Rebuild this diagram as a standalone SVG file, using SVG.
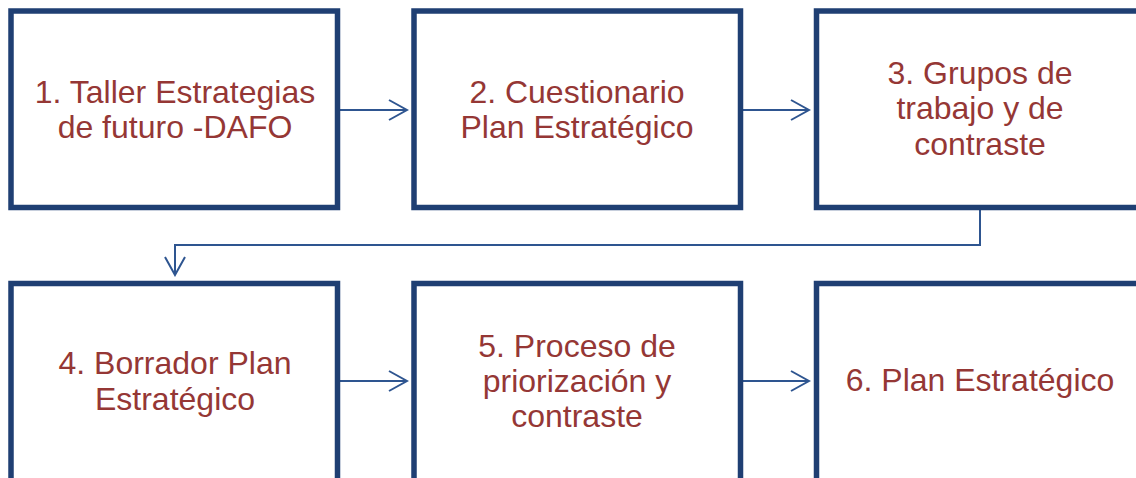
<svg xmlns="http://www.w3.org/2000/svg" width="1136" height="478" viewBox="0 0 1136 478">
<defs>
<style>
.box{fill:#fff;stroke:#1F3F73;stroke-width:5.5}
.t{font-family:"Liberation Sans",Arial,sans-serif;font-size:32px;fill:#953735;text-anchor:middle}
.c{fill:none;stroke:#2E5590;stroke-width:2}
</style>
<marker id="ah" markerWidth="22" markerHeight="24" refX="20" refY="12" orient="auto" markerUnits="userSpaceOnUse">
<path d="M2,2 L20,12 L2,22" fill="none" stroke="#2E5590" stroke-width="2"/>
</marker>
</defs>
<rect width="1136" height="478" fill="#fff"/>
<g id="connectors">
<line class="c" x1="340" y1="110" x2="407" y2="110" marker-end="url(#ah)"/>
<line class="c" x1="743" y1="110" x2="809" y2="110" marker-end="url(#ah)"/>
<polyline class="c" points="980,210 980,245 175,245 175,275" marker-end="url(#ah)"/>
<line class="c" x1="340" y1="381" x2="407" y2="381" marker-end="url(#ah)"/>
<line class="c" x1="743" y1="381" x2="809" y2="381" marker-end="url(#ah)"/>
</g>
<g id="n1"><rect class="box" x="11" y="11" width="326.5" height="196.5"/>
<text class="t"><tspan x="175" y="103">1. Taller Estrategias</tspan><tspan x="175" y="138">de futuro -DAFO</tspan></text></g>
<g id="n2"><rect class="box" x="414" y="11" width="326.5" height="196.5"/>
<text class="t"><tspan x="577" y="103">2. Cuestionario</tspan><tspan x="577" y="138">Plan Estratégico</tspan></text></g>
<g id="n3"><rect class="box" x="816.5" y="11" width="326.5" height="196.5"/>
<text class="t"><tspan x="980" y="84">3. Grupos de</tspan><tspan x="980" y="119">trabajo y de</tspan><tspan x="980" y="155">contraste</tspan></text></g>
<g id="n4"><rect class="box" x="11" y="283.5" width="326.5" height="220"/>
<text class="t"><tspan x="175" y="374">4. Borrador Plan</tspan><tspan x="175" y="410">Estratégico</tspan></text></g>
<g id="n5"><rect class="box" x="414" y="283.5" width="326.5" height="220"/>
<text class="t"><tspan x="577" y="357">5. Proceso de</tspan><tspan x="577" y="392">priorización y</tspan><tspan x="577" y="427">contraste</tspan></text></g>
<g id="n6"><rect class="box" x="816.5" y="283.5" width="326.5" height="220"/>
<text class="t"><tspan x="980" y="391">6. Plan Estratégico</tspan></text></g>
</svg>
